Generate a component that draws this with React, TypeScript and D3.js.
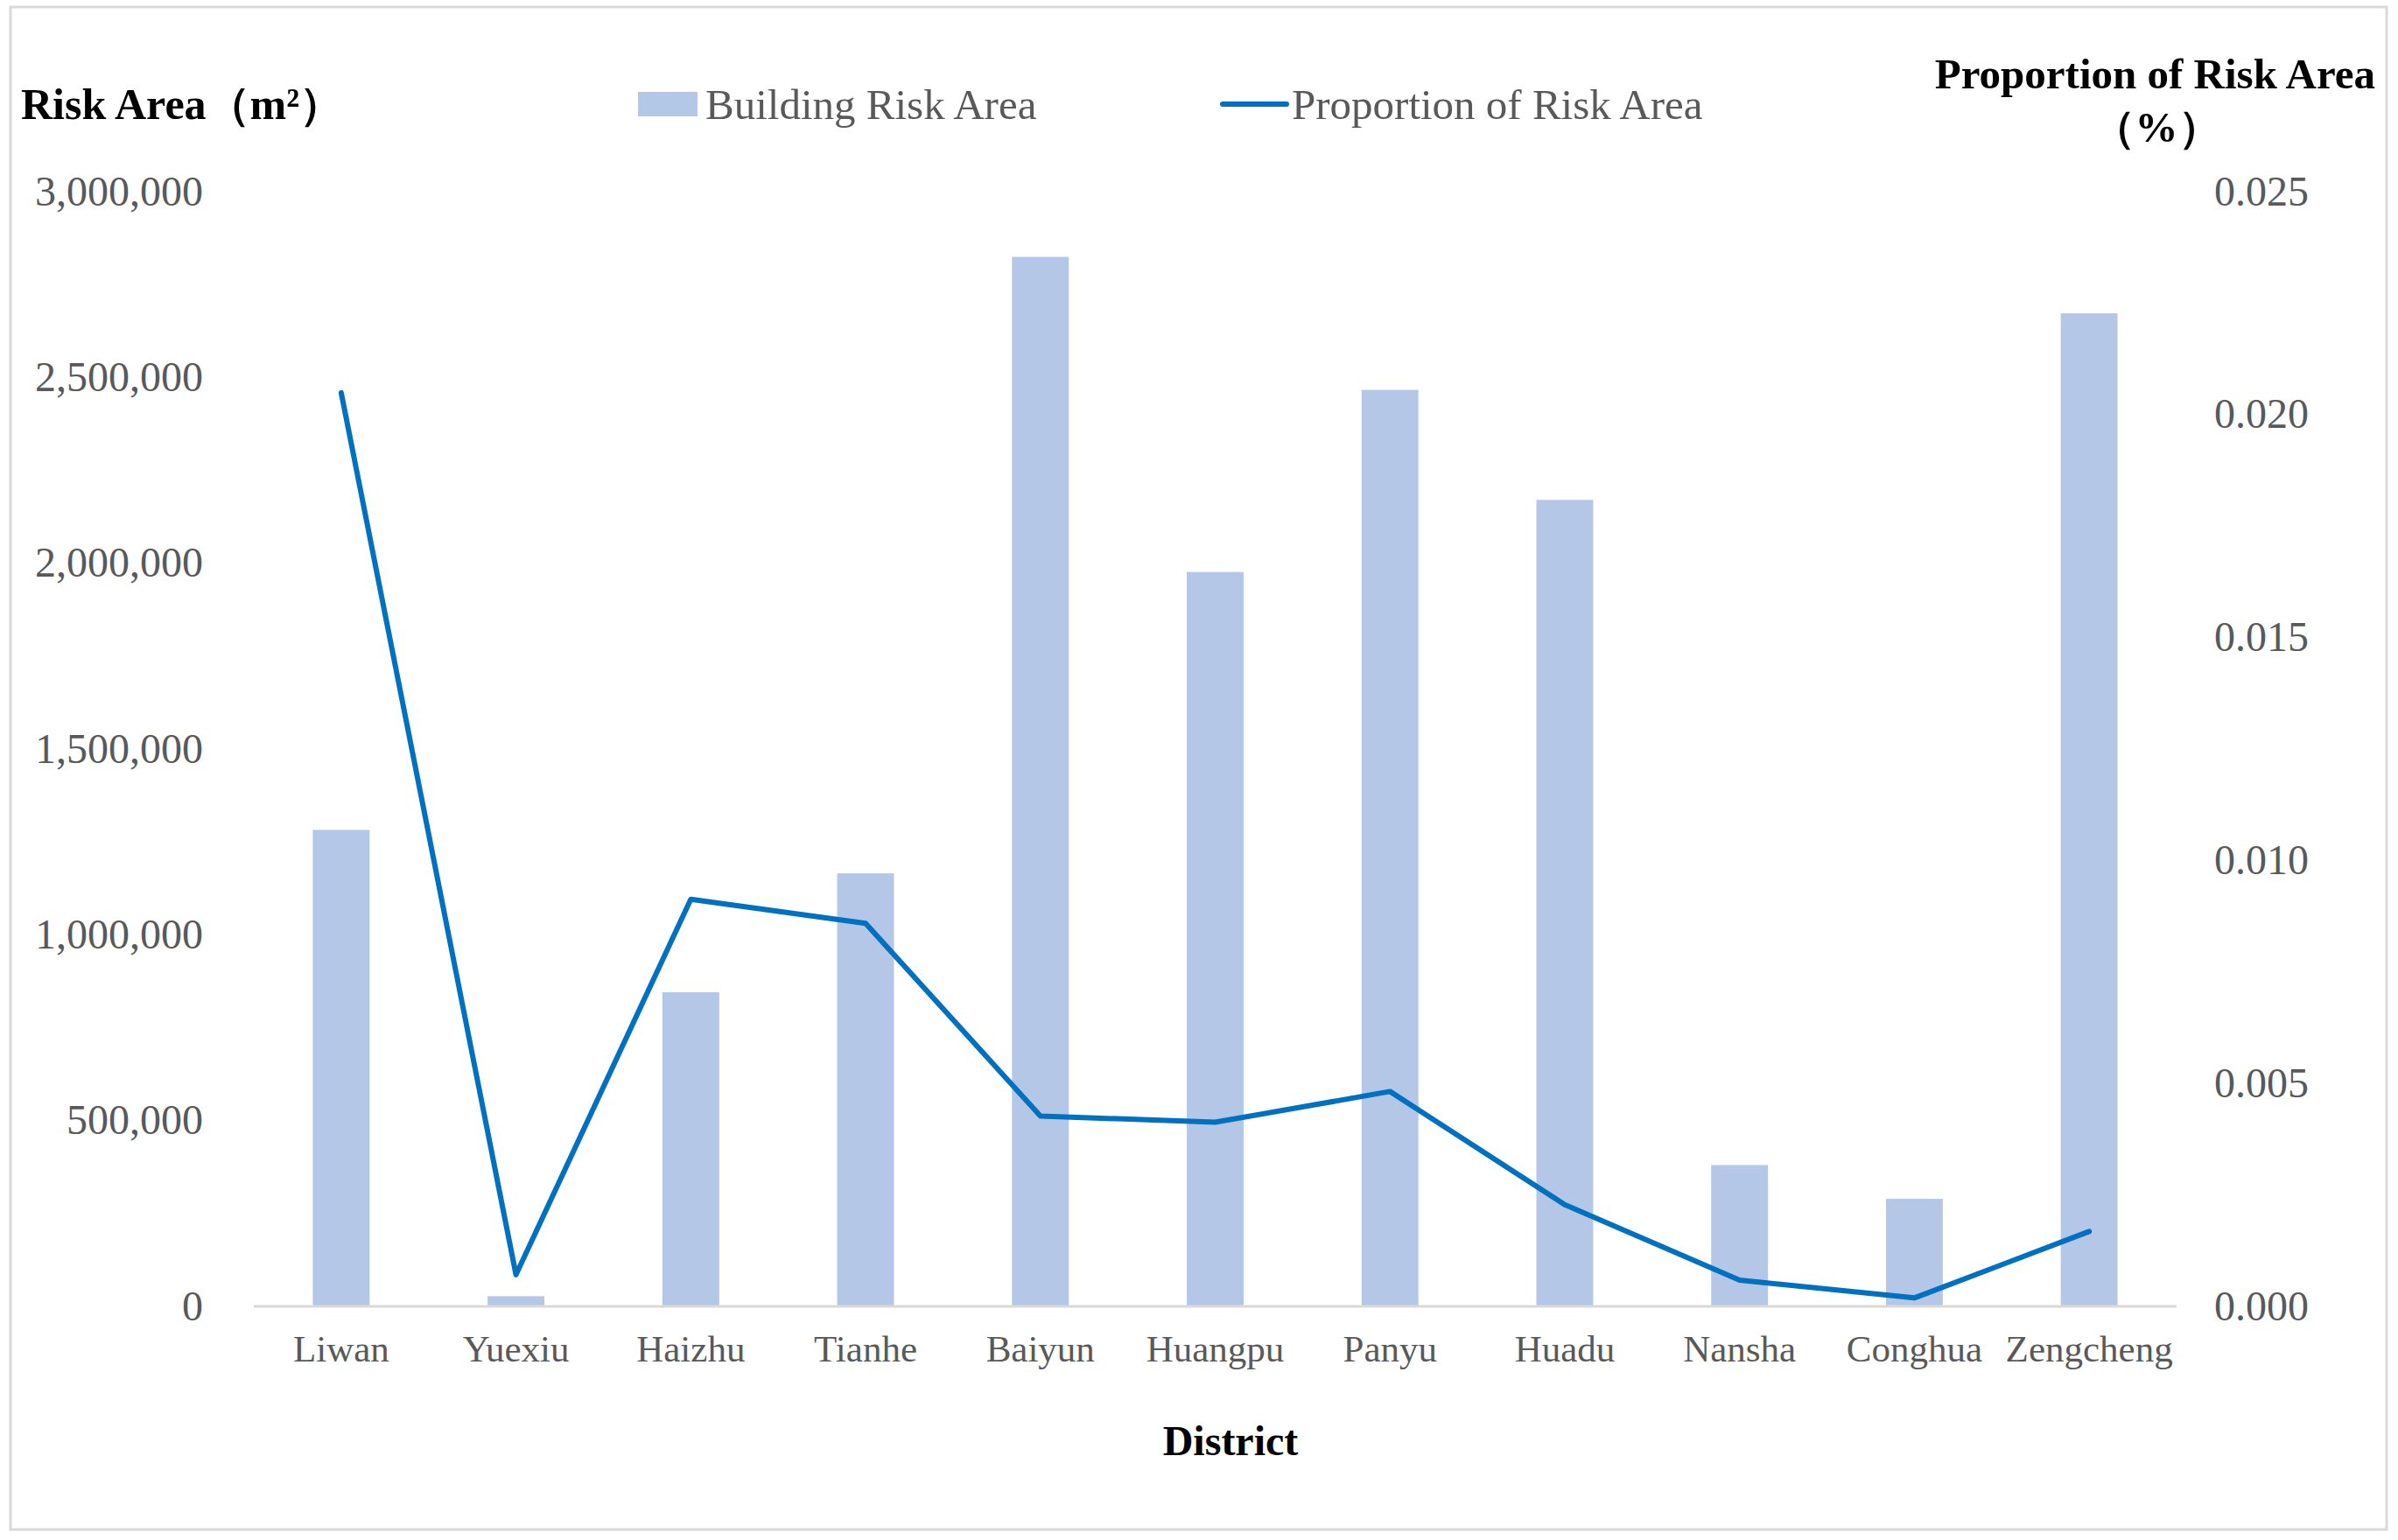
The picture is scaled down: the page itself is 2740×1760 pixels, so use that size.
import React from "react";
import * as d3 from "d3";

// district data
const districts = ["Liwan", "Yuexiu", "Haizhu", "Tianhe", "Baiyun", "Huangpu", "Panyu", "Huadu", "Nansha", "Conghua", "Zengcheng"];
const riskArea = [1280000, 25000, 843000, 1163000, 2822000, 1974000, 2464000, 2168000, 378000, 287000, 2670000];
const riskProportion = [0.02047, 0.00069, 0.00911, 0.00857, 0.00425, 0.00411, 0.0048, 0.00226, 0.00057, 0.00017, 0.00166];
const leftTicks = [0, 500000, 1000000, 1500000, 2000000, 2500000, 3000000];
const rightTicks = [0, 0.005, 0.01, 0.015, 0.02, 0.025];

const W = 2740;
const H = 1760;
const FONT = "'Liberation Serif', 'Times New Roman', serif";
const BAR = "#B4C7E7";
const LINE = "#0070C0";
const TICK = "#595959";

export default function App() {
  const x = d3.scaleBand().domain(districts).range([290, 2487]).padding(0);
  const yL = d3.scaleLinear().domain([0, 3000000]).range([1492, 218]);
  const yR = d3.scaleLinear().domain([0, 0.025]).range([1492, 218]);
  const barW = x.bandwidth() * 0.325;
  const cx = (d) => x(d) + x.bandwidth() / 2;

  const line = d3
    .line()
    .x((d, i) => cx(districts[i]))
    .y((d) => yR(d));

  const fmtL = d3.format(",");
  const fmtR = d3.format(".3f");

  return (
    <svg width={W} height={H} style={{ position: "absolute", left: 0, top: 0, background: "#fff" }} fontFamily={FONT}>
      <rect x={12} y={8} width={2715} height={1740} fill="#fff" stroke="#d9d9d9" strokeWidth={3} />

      {/* bars */}
      {riskArea.map((v, i) => (
        <rect
          key={districts[i]}
          x={cx(districts[i]) - barW / 2}
          y={yL(v)}
          width={barW}
          height={yL(0) - yL(v)}
          fill={BAR}
        />
      ))}

      {/* x axis line */}
      <line x1={290} x2={2487} y1={yL(0) + 1} y2={yL(0) + 1} stroke="#d9d9d9" strokeWidth={3} />

      {/* proportion line */}
      <path d={line(riskProportion)} fill="none" stroke={LINE} strokeWidth={6} strokeLinejoin="round" strokeLinecap="round" />

      {/* left ticks */}
      {leftTicks.map((t) => (
        <text key={"l" + t} x={232} y={yL(t)} textAnchor="end" dominantBaseline="central" fontSize={48} fill={TICK}>
          {fmtL(t)}
        </text>
      ))}

      {/* right ticks */}
      {rightTicks.map((t) => (
        <text key={"r" + t} x={2530} y={yR(t)} textAnchor="start" dominantBaseline="central" fontSize={48} fill={TICK}>
          {fmtR(t)}
        </text>
      ))}

      {/* category labels */}
      {districts.map((d) => (
        <text key={"c" + d} x={cx(d)} y={1541} textAnchor="middle" dominantBaseline="central" fontSize={43} fill={TICK}>
          {d}
        </text>
      ))}

      {/* axis titles */}
      <text x={24} y={119} dominantBaseline="central" fontSize={50} fontWeight="bold" fill="#000">
        Risk Area（m²）
      </text>
      <text x={2714} y={84} textAnchor="end" dominantBaseline="central" fontSize={49} fontWeight="bold" fill="#000">
        Proportion of Risk Area
      </text>
      <text x={2464} y={145} textAnchor="middle" dominantBaseline="central" fontSize={49} fontWeight="bold" fill="#000">
        （%）
      </text>
      <text x={1406} y={1646} textAnchor="middle" dominantBaseline="central" fontSize={48} fontWeight="bold" fill="#000">
        District
      </text>

      {/* legend */}
      <rect x={729} y={105} width={68} height={28} fill={BAR} />
      <text x={806} y={119} dominantBaseline="central" fontSize={49} fill={TICK}>
        Building Risk Area
      </text>
      <line x1={1397} x2={1470} y1={119} y2={119} stroke={LINE} strokeWidth={6} strokeLinecap="round" />
      <text x={1476} y={119} dominantBaseline="central" fontSize={49} fill={TICK}>
        Proportion of Risk Area
      </text>
    </svg>
  );
}
